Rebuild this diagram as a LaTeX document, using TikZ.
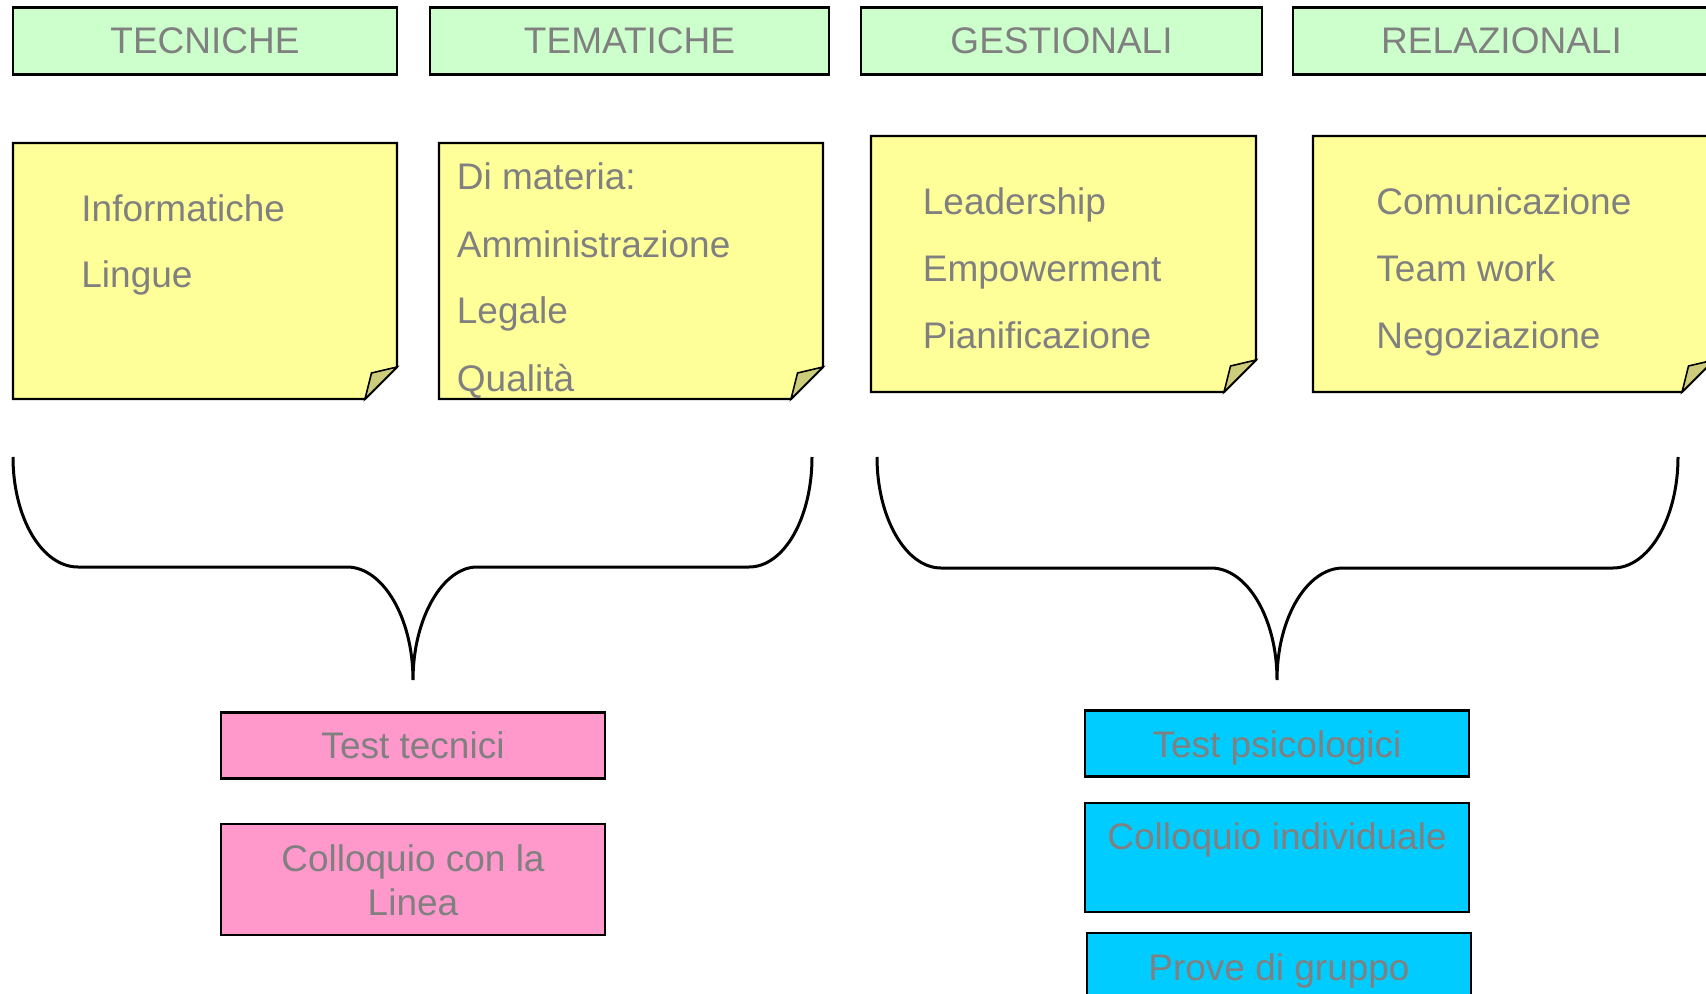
\documentclass[tikz,border=0pt]{standalone}
\usepackage{fontspec}
\setmainfont{Liberation Sans}
\definecolor{hdrgreen}{RGB}{204,255,204}
\definecolor{noteyellow}{RGB}{255,255,153}
\definecolor{foldcol}{RGB}{204,204,122}
\definecolor{pinkbox}{RGB}{255,153,204}
\definecolor{cyanbox}{RGB}{0,204,255}
\definecolor{txtgray}{RGB}{128,128,128}
\tikzset{
  lbl/.style={font=\fontsize{18.5pt}{22pt}\selectfont, text=txtgray, inner sep=0pt},
  hdrbox/.style={draw=black, line width=1.1pt, fill=hdrgreen, inner sep=0pt,
    minimum height=33.5pt, font=\fontsize{18.5pt}{22pt}\selectfont, text=txtgray},
  pinkrect/.style={draw=black, line width=1.1pt, fill=pinkbox, inner sep=0pt, minimum width=192pt},
  cyanrect/.style={draw=black, line width=1.1pt, fill=cyanbox, inner sep=0pt, minimum width=192pt},
  notebody/.style={fill=noteyellow, draw=black, line width=1.1pt, line join=miter},
  notefold/.style={fill=foldcol, draw=black, line width=0.8pt, line join=miter},
  bracepath/.style={draw=black, line width=1.5pt}
}
\newcommand\stickynote[4]{%
  \path[notebody] (#1,#2) -- (#3,#2) -- (#3,#4-32) -- (#3-32,#4) -- (#1,#4) -- cycle;
  \path[notefold] (#3-32,#4) -- (#3-25.5,#4-26) -- (#3,#4-32) -- cycle;}
\begin{document}
\begin{tikzpicture}[x=0.5pt,y=-0.5pt]
\useasboundingbox (0,0) rectangle (1706,994);
\clip (0,0) rectangle (1706,994);

% headers
\node[hdrbox, minimum width=192pt] (h1) at (205,41) {TECNICHE};
\node[hdrbox, minimum width=199.5pt] (h2) at (629.5,41) {TEMATICHE};
\node[hdrbox, minimum width=200.5pt] (h3) at (1061.5,41) {GESTIONALI};
\node[hdrbox, minimum width=208.5pt] (h4) at (1501.5,41) {RELAZIONALI};

% sticky notes
\stickynote{13}{143}{397}{399}
\stickynote{439}{143}{823}{399}
\stickynote{871}{136}{1256}{392}
\stickynote{1313}{136}{1714}{392}

\node[lbl, anchor=base west] (n1a) at (81,222) {Informatiche};
\node[lbl, anchor=base west] (n1b) at (81,288) {Lingue};

\node[lbl, anchor=base west] (n2a) at (456.5,190) {Di materia:};
\node[lbl, anchor=base west] (n2b) at (456.5,258) {Amministrazione};
\node[lbl, anchor=base west] (n2c) at (456.5,324) {Legale};
\node[lbl, anchor=base west] (n2d) at (456.5,391) {Qualità};

\node[lbl, anchor=base west] (n3a) at (922.5,215) {Leadership};
\node[lbl, anchor=base west] (n3b) at (922.5,282) {Empowerment};
\node[lbl, anchor=base west] (n3c) at (922.5,349) {Pianificazione};

\node[lbl, anchor=base west] (n4a) at (1376,215) {Comunicazione};
\node[lbl, anchor=base west] (n4b) at (1376,282) {Team work};
\node[lbl, anchor=base west] (n4c) at (1376,349) {Negoziazione};

% braces
\path[bracepath] (13,457) .. controls (13,518) and (42,567) .. (78,567) -- (347,567)
  .. controls (383,567) and (413,618) .. (413,680)
  .. controls (413,618) and (443,567) .. (477,567) -- (749,567)
  .. controls (784,567) and (812,518) .. (812,457);
\path[bracepath] (877,457) .. controls (877,518) and (906,568) .. (941,568) -- (1211,568)
  .. controls (1247,568) and (1277,618) .. (1277,680)
  .. controls (1277,618) and (1307,568) .. (1343,568) -- (1613,568)
  .. controls (1649,568) and (1678,518) .. (1678,457);

% bottom boxes
\node[pinkrect, minimum height=33pt] (p1) at (413,745.5) {};
\node[pinkrect, minimum height=55.5pt] (p2) at (413,879.5) {};
\node[lbl, anchor=base] (p1t) at (413,758.5) {Test tecnici};
\node[lbl, anchor=base] (p2t) at (413,871) {Colloquio con la};
\node[lbl, anchor=base] (p2u) at (413,915) {Linea};

\node[cyanrect, minimum height=33pt] (c1) at (1277,743.5) {};
\node[cyanrect, minimum height=54.5pt] (c2) at (1277,857.5) {};
\node[cyanrect, minimum height=54pt] (c3) at (1279,987) {};
\node[lbl, anchor=base] (c1t) at (1277,757.5) {Test psicologici};
\node[lbl, anchor=base] (c2t) at (1277,849.5) {Colloquio individuale};
\node[lbl, anchor=base] (c3t) at (1279,980.5) {Prove di gruppo};
\end{tikzpicture}
\end{document}
